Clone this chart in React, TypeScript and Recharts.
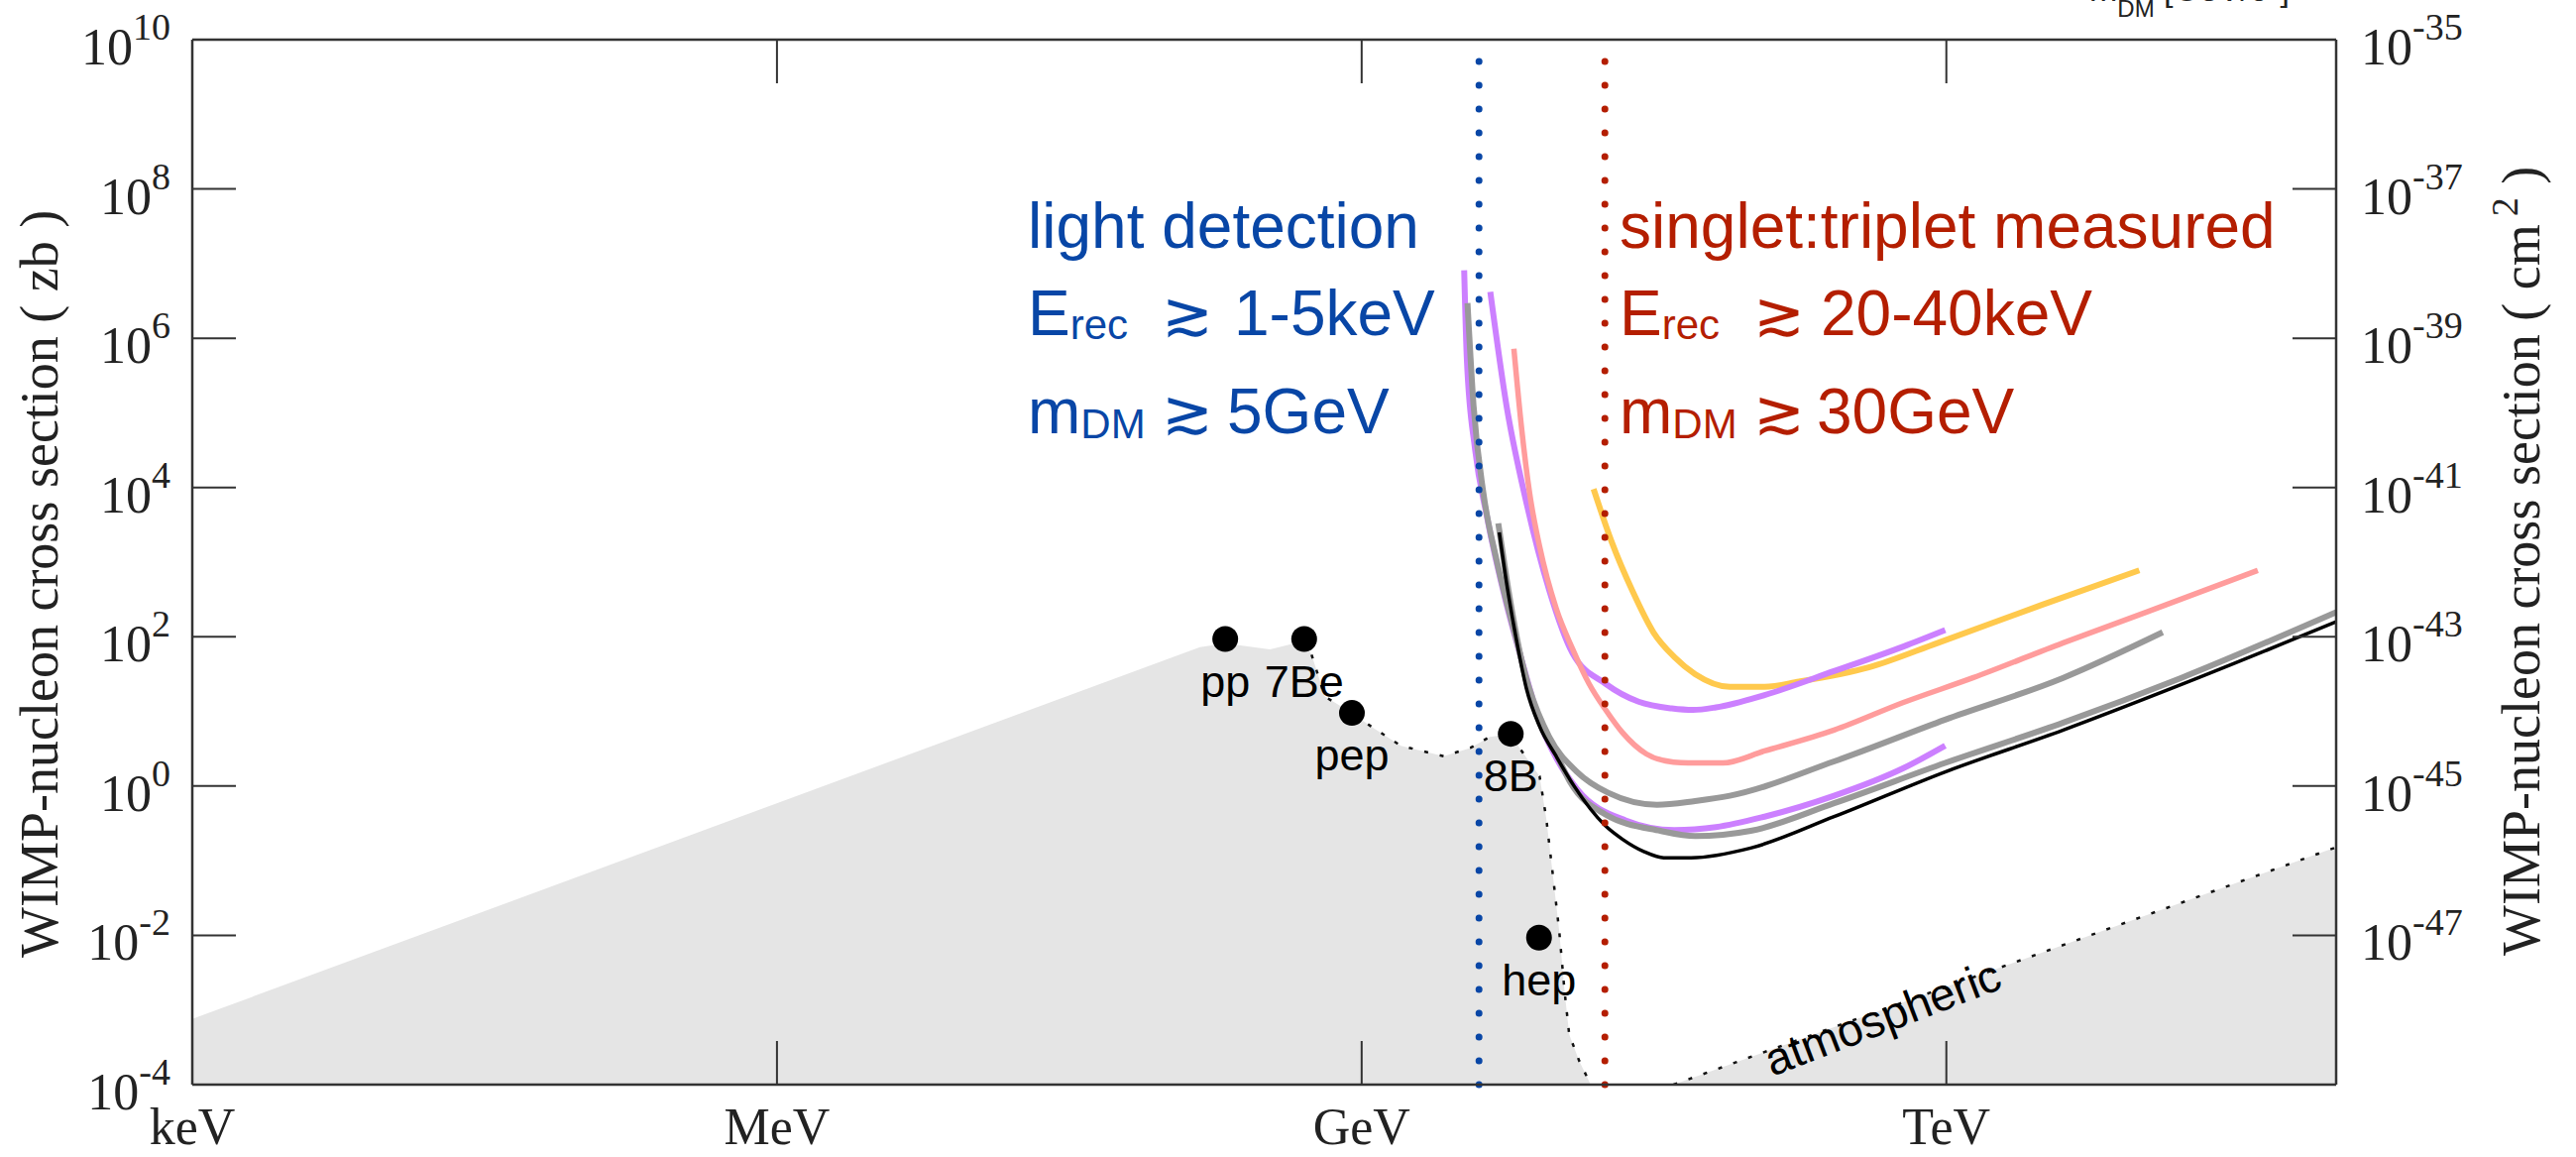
import React from "react";
import { ComposedChart, Line, Area, Scatter, XAxis, YAxis, ReferenceLine } from "recharts";

// every curve point is [log10(m / GeV), log10(sigma / zb)]

const SOLAR_FLOOR: [number, number][] = [
  [-6.0, -3.12], [-0.83, 1.86], [-0.7, 1.91], [-0.47, 1.83], [-0.3, 1.94],
  [-0.257, 1.76], [-0.189, 1.2], [-0.045, 0.97], [0.048, 0.8], [0.201, 0.54],
  [0.421, 0.4], [0.557, 0.51], [0.658, 0.66], [0.769, 0.7], [0.81, 0.51],
  [0.913, 0.13], [0.947, -0.43], [0.981, -1.19], [1.014, -1.95], [1.04, -2.72],
  [1.065, -3.33], [1.116, -3.68], [1.175, -4.0],
];
const SOLAR_DOTTED_FROM = 5; // boundary is drawn dotted from the 7Be edge on

const ATM_FLOOR: [number, number][] = [[1.6, -4.0], [3.31, -2.4], [5.0, -0.82]];

const YELLOW: [number, number][] = [
  [1.19, 3.98], [1.283, 3.27], [1.39, 2.61], [1.497, 2.06], [1.604, 1.73],
  [1.711, 1.5], [1.889, 1.33], [2.067, 1.33], [2.245, 1.4], [2.602, 1.59],
  [2.958, 1.92], [3.493, 2.43], [3.99, 2.89],
];

const PURPLE_UPPER: [number, number][] = [
  [0.66, 6.62], [0.743, 5.1], [0.845, 3.8], [0.964, 2.61], [1.082, 1.78],
  [1.252, 1.37], [1.421, 1.13], [1.591, 1.04], [1.7, 1.02], [1.818, 1.055],
  [2.067, 1.22], [2.424, 1.54], [2.78, 1.87], [2.994, 2.09],
];

const PURPLE_LOWER: [number, number][] = [
  [0.526, 6.91], [0.54, 5.7], [0.582, 4.51], [0.642, 3.62], [0.743, 2.44],
  [0.811, 1.78], [0.93, 0.75], [1.0, 0.37], [1.105, -0.04], [1.354, -0.46],
  [1.604, -0.59], [1.818, -0.55], [2.067, -0.41], [2.424, -0.13], [2.78, 0.24],
  [2.994, 0.54],
];

const PINK: [number, number][] = [
  [0.781, 5.86], [0.82, 4.81], [0.862, 3.92], [0.913, 3.21], [0.998, 2.38],
  [1.082, 1.84], [1.167, 1.37], [1.252, 1.02], [1.337, 0.72], [1.461, 0.43],
  [1.6, 0.32], [1.675, 0.31], [1.853, 0.31], [2.067, 0.47], [2.424, 0.75],
  [2.78, 1.12], [3.136, 1.45], [3.6, 1.92], [4.027, 2.33], [4.598, 2.89],
];

const GRAY_UPPER: [number, number][] = [
  [0.543, 6.47], [0.574, 5.1], [0.625, 3.92], [0.692, 3.03], [0.794, 1.96],
  [0.86, 1.31], [0.962, 0.66], [1.105, 0.19], [1.265, -0.09], [1.515, -0.25],
  [1.711, -0.2], [1.889, -0.13], [2.424, 0.33], [2.994, 0.89], [3.6, 1.45],
  [4.11, 2.06],
];

const GRAY_LOWER: [number, number][] = [
  [0.701, 3.52], [0.743, 2.79], [0.794, 2.02], [0.85, 1.35], [0.913, 0.85],
  [1.0, 0.42], [1.07, 0.05], [1.25, -0.38], [1.533, -0.6], [1.711, -0.67],
  [1.996, -0.6], [2.424, -0.23], [2.994, 0.31], [3.6, 0.85], [4.206, 1.45],
  [5.0, 2.33],
];

const BLACK: [number, number][] = [
  [0.706, 3.4], [0.743, 2.73], [0.794, 1.96], [0.845, 1.31], [0.913, 0.8],
  [0.998, 0.4], [1.09, 0.0], [1.25, -0.53], [1.337, -0.71], [1.45, -0.88],
  [1.55, -0.96], [1.69, -0.96], [1.996, -0.83], [2.424, -0.41], [2.994, 0.19],
  [3.6, 0.75], [4.206, 1.36], [5.0, 2.2],
];

const SOURCE_NAMES = ["pp", "7Be", "pep", "8B", "hep"];
const SOURCE_LOG_M = [-0.7, -0.295, -0.05, 0.765, 0.91];
const SOURCE_LOG_S = [1.97, 1.97, 0.98, 0.7, -2.03];

const LIGHT_DETECTION_M = 4.0; // GeV
const SINGLET_TRIPLET_M = 17.7; // GeV

const X_TICKS = [1e-6, 1e-3, 1, 1e3];
const X_TICK_LABELS = ["keV", "MeV", "GeV", "TeV"];
const Y_TICK_EXP = [-4, -2, 0, 2, 4, 6, 8, 10];
const Y_TICKS = Y_TICK_EXP.map((e) => 10 ** e);
const ZB_TO_CM2_EXP = -45;

const W = 2599;
const H = 1167;
const BLUE = "#0846a6";
const RED = "#b41e00";
const AXIS = "#333";
const TEXT = "#222";
const SANS = "'Liberation Sans', Arial, sans-serif";
const SERIF = "'Liberation Serif', 'Times New Roman', serif";
const TICK_LEN = 44;

const toPts = (arr: [number, number][]) => arr.map(([lm, ls]) => ({ x: 10 ** lm, y: 10 ** ls }));

const sources = SOURCE_NAMES.map((name, i) => ({
  name,
  x: 10 ** SOURCE_LOG_M[i],
  y: 10 ** SOURCE_LOG_S[i],
}));

const expOf = (v: number) => Math.round(Math.log10(v));

function BottomTick(p: any) {
  const { x, y, payload } = p;
  const label = X_TICK_LABELS[X_TICKS.indexOf(payload.value)];
  return (
    <g>
      <line x1={x} y1={y} x2={x} y2={y - TICK_LEN} stroke={AXIS} strokeWidth={2} />
      <text x={x} y={y + 60} textAnchor="middle" fontFamily={SERIF} fontSize={52} fill={TEXT}>
        {label}
      </text>
    </g>
  );
}

function TopTick(p: any) {
  const { x, y } = p;
  return <line x1={x} y1={y} x2={x} y2={y + TICK_LEN} stroke={AXIS} strokeWidth={2} />;
}

function LeftTick(p: any) {
  const { x, y, payload } = p;
  return (
    <g>
      <line x1={x} y1={y} x2={x + TICK_LEN} y2={y} stroke={AXIS} strokeWidth={2} />
      <text x={x - 22} y={y + 25} textAnchor="end" fontFamily={SERIF} fontSize={52} fill={TEXT}>
        10
        <tspan fontSize={38} dy={-25}>
          {expOf(payload.value)}
        </tspan>
      </text>
    </g>
  );
}

function RightTick(p: any) {
  const { x, y, payload } = p;
  const e = expOf(payload.value);
  return (
    <g>
      <line x1={x} y1={y} x2={x - TICK_LEN} y2={y} stroke={AXIS} strokeWidth={2} />
      {e > -4 && (
        <text x={x + 25} y={y + 25} fontFamily={SERIF} fontSize={52} fill={TEXT}>
          10
          <tspan fontSize={38} dy={-25}>
            {e + ZB_TO_CM2_EXP}
          </tspan>
        </text>
      )}
    </g>
  );
}

function SourceDot(p: any) {
  const { cx, cy, payload } = p;
  return (
    <g>
      <circle cx={cx} cy={cy} r={13} fill="#000" />
      <text x={cx} y={cy + 58} textAnchor="middle" fontFamily={SANS} fontSize={45} fill="#000">
        {payload.name}
      </text>
    </g>
  );
}

// texts laid over the chart so the shaded floor cannot cover them
function Annotations() {
  return (
    <svg
      width={W}
      height={H}
      style={{ position: "absolute", left: 0, top: 0, pointerEvents: "none" }}
      fontFamily={SANS}
    >
      <text x={1037} y={250} fontSize={64} fill={BLUE}>light detection</text>
      <text y={338} fontSize={64} fill={BLUE}>
        <tspan x={1037}>E</tspan>
        <tspan fontSize={42} dy={4}>rec</tspan>
        <tspan x={1172} dy={-4} fontSize={62}>≳</tspan>
        <tspan x={1245}>1-5keV</tspan>
      </text>
      <text y={437} fontSize={64} fill={BLUE}>
        <tspan x={1037}>m</tspan>
        <tspan fontSize={42} dy={5}>DM</tspan>
        <tspan x={1172} dy={-5} fontSize={62}>≳</tspan>
        <tspan x={1238}>5GeV</tspan>
      </text>

      <text x={1634} y={250} fontSize={64} fill={RED}>singlet:triplet measured</text>
      <text y={338} fontSize={64} fill={RED}>
        <tspan x={1634}>E</tspan>
        <tspan fontSize={42} dy={4}>rec</tspan>
        <tspan x={1769} dy={-4} fontSize={62}>≳</tspan>
        <tspan x={1837}>20-40keV</tspan>
      </text>
      <text y={437} fontSize={64} fill={RED}>
        <tspan x={1634}>m</tspan>
        <tspan fontSize={42} dy={5}>DM</tspan>
        <tspan x={1769} dy={-5} fontSize={62}>≳</tspan>
        <tspan x={1833}>30GeV</tspan>
      </text>

      <text x={1788} y={1086} fontSize={46} fill="#000" transform="rotate(-21 1788 1086)">
        atmospheric
      </text>

      <text x={58} y={966} transform="rotate(-90 58 966)" fontFamily={SERIF} fontSize={54} fill={TEXT}>
        WIMP-nucleon cross section ( zb )
      </text>
      <text x={2562} y={964} transform="rotate(-90 2562 964)" fontFamily={SERIF} fontSize={54} fill={TEXT}>
        WIMP-nucleon cross section ( cm
        <tspan fontSize={38} dx={8} dy={-22}>2</tspan>
        <tspan dy={22}> )</tspan>
      </text>

      {/* top axis title, clipped by the page edge as in the figure */}
      <text y={1} fontSize={34} fill={TEXT}>
        <tspan x={2108}>m</tspan>
        <tspan fontSize={24} dy={16}>DM</tspan>
        <tspan dy={-16}> [GeV/c</tspan>
        <tspan fontSize={24} dy={-12}>2</tspan>
        <tspan dy={12}>]</tspan>
      </text>
    </svg>
  );
}

const AXIS_LINE = { stroke: AXIS, strokeWidth: 2.5 };

export default function App() {
  const curves = [
    { d: YELLOW, c: "#ffc94d", w: 6 },
    { d: PURPLE_UPPER, c: "#cc80ff", w: 6 },
    { d: PURPLE_LOWER, c: "#cc80ff", w: 6 },
    { d: PINK, c: "#ff9c9c", w: 5.5 },
    { d: GRAY_UPPER, c: "#999999", w: 6 },
    { d: GRAY_LOWER, c: "#999999", w: 6 },
    { d: BLACK, c: "#000000", w: 3.5 },
  ];
  const solar = toPts(SOLAR_FLOOR);
  const atm = toPts(ATM_FLOOR);

  return (
    <div style={{ position: "absolute", left: 0, top: 0, width: W, height: H, background: "#fff" }}>
      <ComposedChart width={W} height={H} margin={{ top: 0, right: 0, bottom: 0, left: 0 }}>
        <Area xAxisId="b" yAxisId="l" data={solar} dataKey="y" type="linear" fill="#e5e5e5" fillOpacity={1} stroke="none" isAnimationActive={false} />
        <Area xAxisId="b" yAxisId="l" data={atm} dataKey="y" type="linear" fill="#e5e5e5" fillOpacity={1} stroke="none" isAnimationActive={false} />
        <Line xAxisId="b" yAxisId="l" data={solar.slice(SOLAR_DOTTED_FROM)} dataKey="y" type="linear" stroke="#111" strokeWidth={2.5} strokeDasharray="4 12" dot={false} isAnimationActive={false} />
        <Line xAxisId="b" yAxisId="l" data={atm} dataKey="y" type="linear" stroke="#111" strokeWidth={2.5} strokeDasharray="4 12" dot={false} isAnimationActive={false} />

        {curves.map((s, i) => (
          <Line
            key={i}
            xAxisId="b"
            yAxisId="l"
            data={toPts(s.d)}
            dataKey="y"
            type="monotone"
            stroke={s.c}
            strokeWidth={s.w}
            dot={false}
            isAnimationActive={false}
          />
        ))}

        <Scatter xAxisId="b" yAxisId="l" data={sources} dataKey="y" shape={SourceDot} isAnimationActive={false} />

        <ReferenceLine xAxisId="b" yAxisId="l" x={LIGHT_DETECTION_M} stroke={BLUE} strokeWidth={7} strokeDasharray="0 24" strokeLinecap="round" />
        <ReferenceLine xAxisId="b" yAxisId="l" x={SINGLET_TRIPLET_M} stroke={RED} strokeWidth={7} strokeDasharray="0 24" strokeLinecap="round" />

        <XAxis xAxisId="b" dataKey="x" type="number" scale="log" domain={[1e-6, 1e5]} allowDataOverflow ticks={X_TICKS} interval={0} height={73} tickSize={0} tickMargin={0} tickLine={false} axisLine={AXIS_LINE} tick={BottomTick} />
        <XAxis xAxisId="t" orientation="top" dataKey="x" type="number" scale="log" domain={[1e-6, 1e5]} allowDataOverflow ticks={X_TICKS} interval={0} height={40} tickSize={0} tickMargin={0} tickLine={false} axisLine={AXIS_LINE} tick={TopTick} />
        <YAxis yAxisId="l" dataKey="y" type="number" scale="log" domain={[1e-4, 1e10]} allowDataOverflow ticks={Y_TICKS} interval={0} width={194} tickSize={0} tickMargin={0} tickLine={false} axisLine={AXIS_LINE} tick={LeftTick} />
        <YAxis yAxisId="r" orientation="right" dataKey="y" type="number" scale="log" domain={[1e-4, 1e10]} allowDataOverflow ticks={Y_TICKS} interval={0} width={242} tickSize={0} tickMargin={0} tickLine={false} axisLine={AXIS_LINE} tick={RightTick} />
      </ComposedChart>
      <Annotations />
    </div>
  );
}
